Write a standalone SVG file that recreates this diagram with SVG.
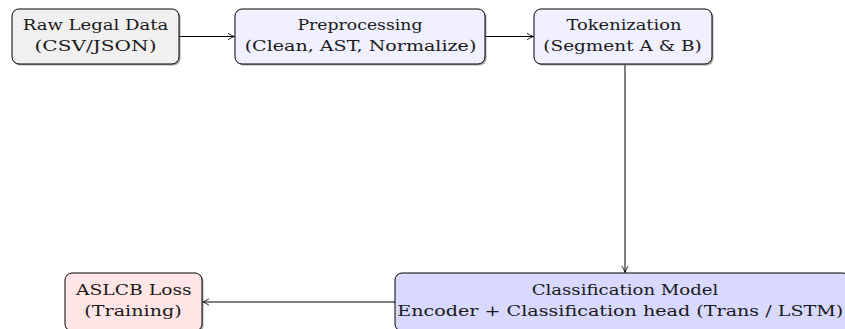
<svg xmlns="http://www.w3.org/2000/svg" width="845" height="329" viewBox="0 0 845 329">
<defs>
<marker id="arr" viewBox="0 0 10 10" refX="9" refY="5" markerWidth="8" markerHeight="8" markerUnits="userSpaceOnUse" orient="auto">
<path d="M1,1 Q5,4 9,5 Q5,6 1,9" fill="none" stroke="#000" stroke-width="1.1"/>
</marker>
</defs>
<style>
.box{stroke:#000;stroke-width:1}
.shadow{fill:#808080;opacity:0.7}
.t{font-family:"DejaVu Serif","Liberation Serif",serif;font-size:15.5px;fill:#1a1a1a;text-anchor:middle}
.c{stroke:#000;stroke-width:1;fill:none;marker-end:url(#arr)}
</style>
<g id="connectors">
<line class="c" x1="179" y1="36.5" x2="234.5" y2="36.5"/>
<line class="c" x1="485" y1="36.5" x2="533.5" y2="36.5"/>
<line class="c" x1="625" y1="64" x2="625" y2="272.5"/>
<line class="c" x1="395" y1="302" x2="202.5" y2="302"/>
</g>
<g id="raw">
<rect class="shadow" x="13.5" y="10.5" width="167" height="55" rx="7"/>
<rect class="box" x="12" y="9" width="167" height="55" rx="7" fill="#f0f0f0"/>
<text class="t" x="95.5" y="29.5" textLength="145.6" lengthAdjust="spacingAndGlyphs">Raw Legal Data</text>
<text class="t" x="95.5" y="50.5" textLength="122" lengthAdjust="spacingAndGlyphs">(CSV/JSON)</text>
</g>
<g id="preprocessing">
<rect class="shadow" x="236.5" y="10.5" width="250" height="55" rx="7"/>
<rect class="box" x="235" y="9" width="250" height="55" rx="7" fill="#f0f0ff"/>
<text class="t" x="360" y="29.5" textLength="125" lengthAdjust="spacingAndGlyphs">Preprocessing</text>
<text class="t" x="360.5" y="50.5" textLength="231.7" lengthAdjust="spacingAndGlyphs">(Clean, AST, Normalize)</text>
</g>
<g id="tokenization">
<rect class="shadow" x="535.5" y="10.5" width="178" height="55" rx="7"/>
<rect class="box" x="534" y="9" width="178" height="55" rx="7" fill="#f0f0ff"/>
<text class="t" x="624" y="29.5" textLength="115" lengthAdjust="spacingAndGlyphs">Tokenization</text>
<text class="t" x="622.5" y="50.5" textLength="158.4" lengthAdjust="spacingAndGlyphs">(Segment A &amp; B)</text>
</g>
<g id="model">
<rect class="shadow" x="396.5" y="274.5" width="455" height="58" rx="7"/>
<rect class="box" x="395" y="273" width="455" height="58" rx="7" fill="#d9d9ff"/>
<text class="t" x="625" y="295" textLength="186.7" lengthAdjust="spacingAndGlyphs">Classification Model</text>
<text class="t" x="620.3" y="315.5" textLength="446" lengthAdjust="spacingAndGlyphs">Encoder + Classification head (Trans / LSTM)</text>
</g>
<g id="loss">
<rect class="shadow" x="66.5" y="274.5" width="137" height="58" rx="7"/>
<rect class="box" x="65" y="273" width="137" height="58" rx="7" fill="#ffe5e5"/>
<text class="t" x="133.8" y="295" textLength="115.7" lengthAdjust="spacingAndGlyphs">ASLCB Loss</text>
<text class="t" x="133" y="315.5" textLength="97.3" lengthAdjust="spacingAndGlyphs">(Training)</text>
</g>
</svg>
